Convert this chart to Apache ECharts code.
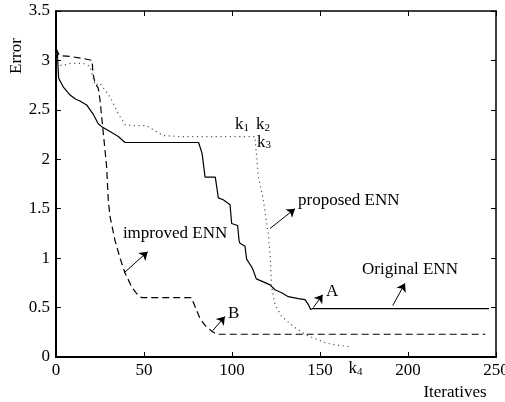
<!DOCTYPE html>
<html><head><meta charset="utf-8">
<script src="https://cdn.jsdelivr.net/npm/echarts@6/dist/echarts.min.js"></script>
<style>html,body{margin:0;padding:0;background:#fff}#c{width:505px;height:402px}</style>
</head><body><div id="c"></div>
<script>
// Original ENN (solid)
const originalENN = [[0,3.13],[0.8,3.06],[1.5,2.82],[4.2,2.73],[8,2.65],[11,2.61],[13.6,2.59],[17.4,2.55],[21,2.46],[24,2.36],[26,2.33],[30.7,2.28],[35.4,2.23],[39.2,2.17],[81,2.17],[83,2.06],[84.7,1.82],[90.5,1.82],[91.5,1.7],[92.2,1.61],[95,1.59],[98.9,1.54],[99.8,1.35],[103.2,1.33],[104,1.18],[104.5,1.15],[107.4,1.12],[108.3,0.99],[111.2,0.91],[112,0.88],[113,0.86],[113.8,0.79],[117.8,0.76],[121.6,0.73],[124.4,0.68],[128.2,0.65],[132,0.61],[137.7,0.59],[141.5,0.58],[143.4,0.53],[144.7,0.48],[146,0.49],[246,0.49]];
// improved ENN (dashed)
const improvedENN = [[0,3.12],[1.9,3.05],[8,3.04],[15.5,3.02],[20.5,3.0],[21,2.87],[22.2,2.77],[23,2.79],[24,2.72],[25,2.6],[26.9,2.26],[28.8,1.92],[29.7,1.59],[30.7,1.42],[33.5,1.18],[36.4,1.0],[39.2,0.85],[43,0.71],[45.9,0.64],[48.7,0.6],[77,0.6],[79,0.51],[81.8,0.39],[84.7,0.32],[88.5,0.26],[91.3,0.23],[244,0.23]];
// proposed ENN (dotted)
const proposedENN = [[0,3.07],[1.3,2.95],[4.2,2.95],[8,2.97],[15.5,2.97],[19.3,2.94],[22.2,2.75],[25,2.77],[30.7,2.63],[35.4,2.46],[39.2,2.35],[45,2.34],[51.5,2.34],[56,2.29],[61,2.24],[70,2.23],[113,2.23],[114,2.03],[115,1.82],[117.8,1.59],[119.7,1.35],[120.6,1.25],[121.6,1.05],[122.5,0.71],[124.4,0.53],[128.2,0.41],[134.8,0.31],[142.4,0.22],[153.8,0.14],[160,0.12],[168,0.1]];

// annotation texts and their anchor points (data coordinates)
const labelTexts = ['{k|k}{s|1}','{k|k}{s|2}','{k|k}{s|3}','proposed ENN','improved ENN','Original ENN','A','B'];
const labelAnchors = [[105.7,2.35],[117.6,2.35],[118.2,2.17],[137.5,1.58],[38,1.245],[173.9,0.88],[153.4,0.667],[97.7,0.435]];
const labelCentered = [true,true,true,false,false,false,false,false];
const k4Value = 169;
const k4Label = '{k|k}{s|4}';
// arrows: [from, to] in data coordinates
const arrows = [
  [[121.6,1.30],[135.8,1.50]],
  [[38.6,0.85],[52.1,1.065]],
  [[89,0.266],[96,0.41]],
  [[146.2,0.50],[151.5,0.63]],
  [[191.3,0.52],[198.3,0.745]]
];

const FF = '"Liberation Serif", "Times New Roman", serif';
const rich = {k:{fontSize:17,fontFamily:FF,color:'#000'}, s:{fontSize:11,fontFamily:FF,color:'#000',verticalAlign:'bottom',padding:[5,0,0,0]}};

const chart = echarts.init(document.getElementById('c'), null, {renderer:'canvas'});

const markPointData = labelTexts.map((t,i)=>({
  coord: labelAnchors[i],
  symbolSize: 0,
  label: {
    show:true, formatter:t, position: labelCentered[i] ? 'inside' : 'right', distance:0,
    fontSize:17, fontFamily:FF, color:'#000', rich
  }
}));
markPointData.push({coord:[k4Value,0], symbolSize:0, label:{show:true, formatter:k4Label, position:'inside', offset:[2,12], fontSize:17, fontFamily:FF, color:'#000', rich}});

const option = {
  animation:false,
  backgroundColor:'#fff',
  grid:{left:56, right:9, top:11, bottom:45, containLabel:false, outerBoundsMode:'none'},
  xAxis:[
    {type:'value', min:0, max:250, interval:50, position:'bottom',
     axisLine:{show:true, onZero:false, lineStyle:{color:'#000', width:2}},
     axisTick:{show:true, inside:true, length:5, lineStyle:{color:'#000', width:1}},
     axisLabel:{color:'#000', fontSize:17, fontFamily:FF, margin:5, showMaxLabel:true, hideOverlap:false},
     splitLine:{show:false}},
    {type:'value', min:0, max:250, interval:50, position:'top',
     axisLine:{show:true, onZero:false, lineStyle:{color:'#000', width:1.5}},
     axisTick:{show:true, inside:true, length:5, lineStyle:{color:'#000', width:1}},
     axisLabel:{show:false}, splitLine:{show:false}}
  ],
  yAxis:[
    {type:'value', min:0, max:3.5, interval:0.5, position:'left',
     axisLine:{show:true, onZero:false, lineStyle:{color:'#000', width:2}},
     axisTick:{show:true, inside:true, length:5, lineStyle:{color:'#000', width:1}},
     axisLabel:{color:'#000', fontSize:17, fontFamily:FF, margin:6},
     splitLine:{show:false}},
    {type:'value', min:0, max:3.5, interval:0.5, position:'right',
     axisLine:{show:true, onZero:false, lineStyle:{color:'#000', width:1.5}},
     axisTick:{show:true, inside:true, length:5, lineStyle:{color:'#000', width:1}},
     axisLabel:{show:false}, splitLine:{show:false}}
  ],
  graphic:[
    {type:'text', x:17, y:56, rotation:Math.PI/2, style:{text:'Error', font:'17px "Liberation Serif"', fill:'#000', align:'center', verticalAlign:'middle'}},
    {type:'text', x:455, y:393, style:{text:'Iteratives', font:'17px "Liberation Serif"', fill:'#000', align:'center', verticalAlign:'middle'}}
  ],
  series:[
    {type:'line', name:'Original ENN', data:originalENN, showSymbol:false, symbol:'none',
     lineStyle:{color:'#000', width:1.2, type:'solid'}, z:3},
    {type:'line', name:'improved ENN', data:improvedENN, showSymbol:false, symbol:'none',
     lineStyle:{color:'#000', width:1.2, type:[7,4]}, z:3},
    {type:'line', name:'proposed ENN', data:proposedENN, showSymbol:false, symbol:'none',
     lineStyle:{color:'#555', width:1.2, type:[1.2,3.5]}, z:3,
     markPoint:{silent:true, animation:false, data:markPointData},
     markLine:{silent:true, animation:false, symbol:['none','arrow'], symbolSize:8,
       label:{show:false}, lineStyle:{color:'#000', width:1, type:'solid'},
       data: arrows.map(a=>[{coord:a[0]},{coord:a[1]}])}
    }
  ]
};
chart.setOption(option);
</script>
</body></html>
